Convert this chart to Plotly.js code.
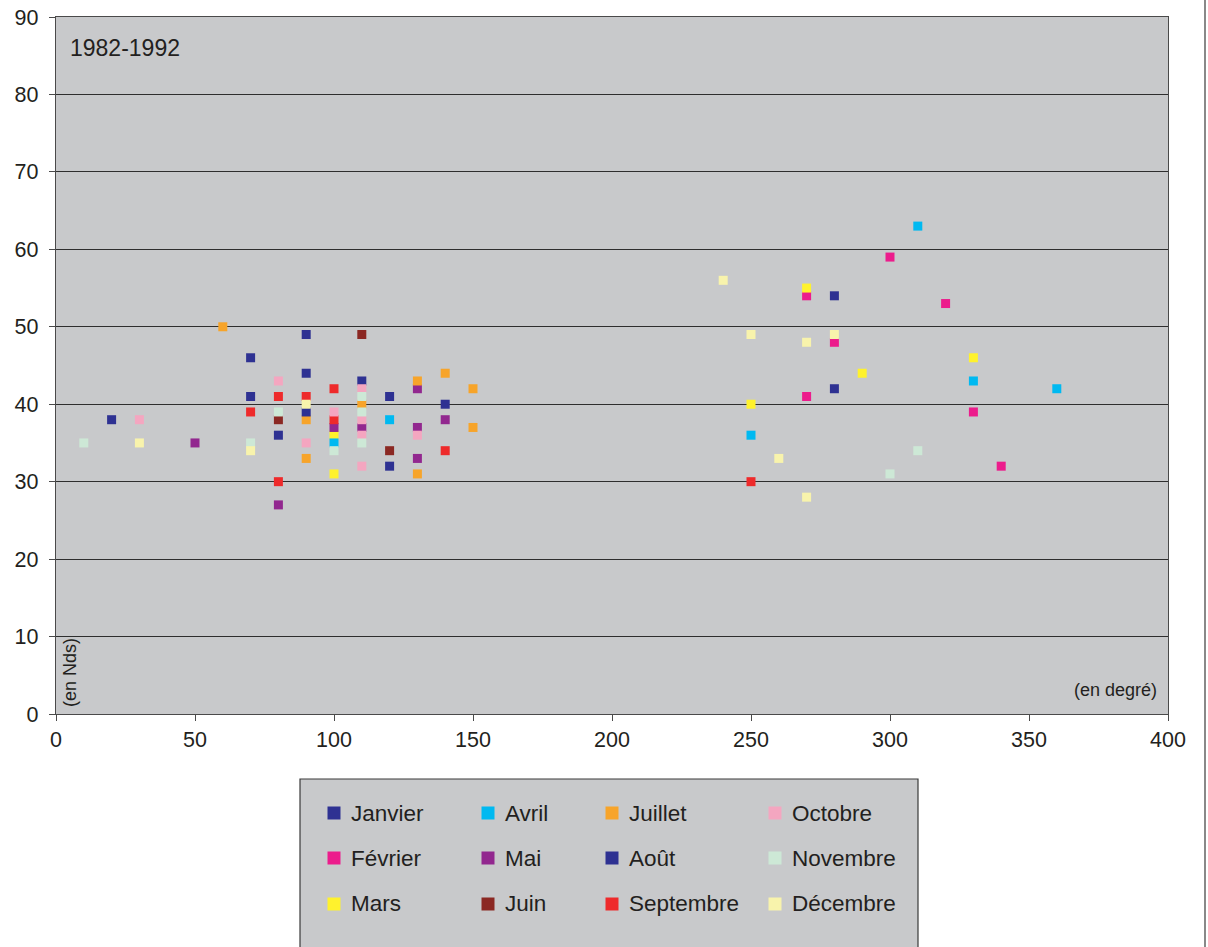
<!DOCTYPE html>
<html>
<head>
<meta charset="utf-8">
<script src="https://cdn.plot.ly/plotly-3.0.1.min.js"></script>
<style>html,body{margin:0;padding:0;background:#fff;}#chart{width:1208px;height:947px;}</style>
</head>
<body>
<div id="chart"></div>
<script>
// Month names (legend labels)
const months = ["Janvier","Février","Mars","Avril","Mai","Juin","Juillet","Août","Septembre","Octobre","Novembre","Décembre"];
const monthColors = ["#2E3192","#EC1C8C","#FFF22D","#00B9F1","#92278F","#8B2823","#F7A42A","#2E3192","#EE2A2B","#F4A6C0","#CDE8D6","#F8F3AC"];

// Wind direction (degrees) and speed (knots) per month
const janvierX = [20,70,80,120,280,280];
const janvierY = [38,46,36,32,54,42];
const fevrierX = [270,270,280,300,320,330,340];
const fevrierY = [54,41,48,59,53,39,32];
const marsX = [100,100,250,270,290,330];
const marsY = [36,31,40,55,44,46];
const avrilX = [100,120,250,310,330,360];
const avrilY = [35,38,36,63,43,42];
const maiX = [50,80,100,110,130,130,130,140];
const maiY = [35,27,37,37,42,37,33,38];
const juinX = [80,110,120];
const juinY = [38,49,34];
const juilletX = [60,90,90,110,130,130,140,150,150];
const juilletY = [50,38,33,40,43,31,44,42,37];
const aoutX = [70,90,90,90,110,120,140];
const aoutY = [41,49,44,39,43,41,40];
const septembreX = [70,80,80,90,100,100,140,250];
const septembreY = [39,41,30,41,42,38,34,30];
const octobreX = [30,80,90,100,110,110,110,110,130];
const octobreY = [38,43,35,39,42,38,36,32,36];
const novembreX = [10,70,80,100,110,110,110,300,310];
const novembreY = [35,35,39,34,41,39,35,31,34];
const decembreX = [30,70,90,240,250,260,270,270,280];
const decembreY = [35,34,40,56,49,33,48,28,49];

const xTicks = [0,50,100,150,200,250,300,350,400];
const yTicks = [0,10,20,30,40,50,60,70,80,90];

const seriesX = [janvierX,fevrierX,marsX,avrilX,maiX,juinX,juilletX,aoutX,septembreX,octobreX,novembreX,decembreX];
const seriesY = [janvierY,fevrierY,marsY,avrilY,maiY,juinY,juilletY,aoutY,septembreY,octobreY,novembreY,decembreY];

const traces = months.map((m,i)=>({
  type:'scatter', mode:'markers', name:m,
  x: seriesX[i], y: seriesY[i],
  marker:{symbol:'square', size:9, color: monthColors[i], line:{width:0}},
  showlegend:false, hoverinfo:'x+y+name'
}));

// Plot area in pixels
const W = 1208, H = 947;
const L = 56, R = 1168, T = 17, B = 714;
const px = x => (x - L) / (R - L);
const py = y => (B - y) / (B - T);

const FONT = 'Arial, "Liberation Sans", Helvetica, sans-serif';
const textColor = '#231F20';

const shapes = [
  // legend box
  {type:'rect', xref:'paper', yref:'paper', x0:px(300), x1:px(918), y0:py(955), y1:py(779),
   line:{color:'#3a3a3a', width:1.2}, fillcolor:'#C8C9CB', layer:'below'},
  // page right border
  {type:'line', xref:'paper', yref:'paper', x0:px(1205), x1:px(1205), y0:py(0), y1:py(947),
   line:{color:'#3a3a3a', width:1.2}}
];
const annotations = [
  {xref:'paper', yref:'paper', x:px(68), y:py(48), text:'1982-1992', showarrow:false,
   xanchor:'left', yanchor:'middle', font:{family:FONT, size:23, color:textColor}},
  {xref:'paper', yref:'paper', x:px(1159), y:py(690), text:'(en degré)', showarrow:false,
   xanchor:'right', yanchor:'middle', font:{family:FONT, size:18, color:textColor}},
  {xref:'paper', yref:'paper', x:px(70), y:py(673), text:'(en Nds)', showarrow:false, textangle:-90,
   xanchor:'center', yanchor:'middle', font:{family:FONT, size:18, color:textColor}}
];

// Manual legend: 3 rows x 4 columns, months filled column by column
const colMarkerX = [334, 488, 612, 775];
const rowY = [813, 858, 904];
const ms = 13;
months.forEach((m,i)=>{
  const c = Math.floor(i/3), r = i%3;
  const cx = colMarkerX[c], cy = rowY[r];
  shapes.push({type:'rect', xref:'paper', yref:'paper',
    x0:px(cx-ms/2), x1:px(cx+ms/2), y0:py(cy+ms/2), y1:py(cy-ms/2),
    line:{width:0}, fillcolor:monthColors[i]});
  annotations.push({xref:'paper', yref:'paper', x:px(cx+15), y:py(cy), text:m, showarrow:false,
    xanchor:'left', yanchor:'middle', font:{family:FONT, size:22.5, color:textColor}});
});

const layout = {
  width:W, height:H,
  margin:{l:L, r:W-R, t:T, b:H-B, pad:0},
  paper_bgcolor:'#ffffff', plot_bgcolor:'#C8C9CB',
  font:{family:FONT, size:21, color:textColor},
  showlegend:false,
  xaxis:{range:[0,400], tickvals:xTicks, ticktext:xTicks.map(String), showgrid:false, zeroline:false,
    showline:true, linecolor:'#4a4a4a', linewidth:1.2, mirror:true,
    ticks:'outside', ticklen:6, tickcolor:'#4a4a4a', tickfont:{family:FONT, size:21.5, color:textColor}},
  yaxis:{range:[0,90], tickvals:yTicks, ticktext:yTicks.map(v => v + '\u00a0'), showgrid:true, gridcolor:'#2e2e2e', gridwidth:1,
    zeroline:false, showline:true, linecolor:'#4a4a4a', linewidth:1.2, mirror:true,
    ticks:'outside', ticklen:6, tickcolor:'#4a4a4a', tickfont:{family:FONT, size:21.5, color:textColor}},
  shapes:shapes, annotations:annotations
};

Plotly.newPlot('chart', traces, layout, {displayModeBar:false, staticPlot:true});
</script>
</body>
</html>
